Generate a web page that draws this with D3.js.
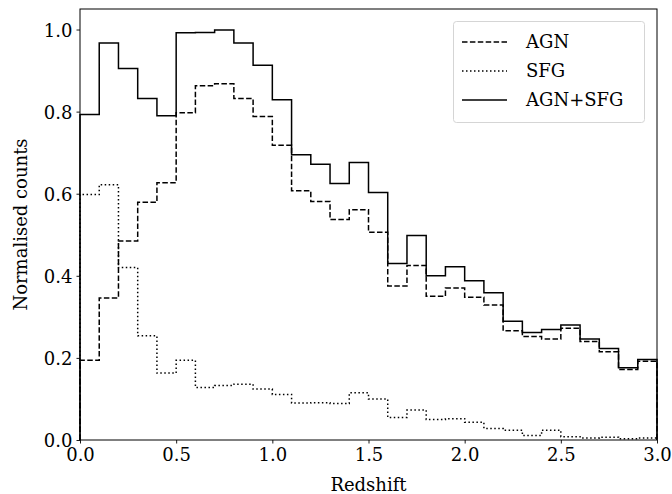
<!DOCTYPE html>
<html>
<head>
<meta charset="utf-8">
<script src="https://cdn.jsdelivr.net/npm/d3@7"></script>
<style>
  body { margin: 0; background: #fff; }
  text { font-family: "DejaVu Serif", serif; fill: #000; }
</style>
</head>
<body>
<svg id="chart"></svg>
<script>
var width = 672, height = 494;
var margin = {top: 9, right: 15, bottom: 54, left: 80};

// bin edges (redshift) and normalised counts per bin
var binEdges = [0.0, 0.1, 0.2, 0.3, 0.4, 0.5, 0.6, 0.7, 0.8, 0.9, 1.0,
                1.1, 1.2, 1.3, 1.4, 1.5, 1.6, 1.7, 1.8, 1.9, 2.0,
                2.1, 2.2, 2.3, 2.4, 2.5, 2.6, 2.7, 2.8, 2.9, 3.0];

var agn = [0.194, 0.346, 0.485, 0.579, 0.627, 0.797, 0.863, 0.868, 0.832, 0.788,
           0.718, 0.607, 0.581, 0.537, 0.561, 0.506, 0.375, 0.425, 0.350, 0.370,
           0.348, 0.329, 0.266, 0.252, 0.246, 0.272, 0.240, 0.215, 0.172, 0.192];

var sfg = [0.598, 0.622, 0.420, 0.254, 0.163, 0.194, 0.128, 0.133, 0.136, 0.124,
           0.111, 0.090, 0.091, 0.089, 0.115, 0.100, 0.055, 0.073, 0.050, 0.052,
           0.043, 0.028, 0.024, 0.011, 0.024, 0.008, 0.005, 0.007, 0.003, 0.005];

var total = [0.793, 0.967, 0.905, 0.832, 0.790, 0.992, 0.993, 0.999, 0.967, 0.913,
             0.829, 0.695, 0.672, 0.625, 0.676, 0.603, 0.430, 0.498, 0.400, 0.422,
             0.388, 0.359, 0.289, 0.262, 0.269, 0.280, 0.246, 0.223, 0.176, 0.196];

var xTicks = [0.0, 0.5, 1.0, 1.5, 2.0, 2.5, 3.0];
var yTicks = [0.0, 0.2, 0.4, 0.6, 0.8, 1.0];

var series = [
    {name: "AGN", values: agn, dash: "5.5,2.4"},
    {name: "SFG", values: sfg, dash: "1.5,2.5"},
    {name: "AGN+SFG", values: total, dash: null}
];

var chart = d3.select('#chart')
    .attr('width', width)
    .attr('height', height);

var x = d3.scaleLinear()
    .domain([0, 3.0])
    .range([margin.left, width - margin.right]);

var y = d3.scaleLinear()
    .domain([0, 1.05])
    .range([height - margin.bottom, margin.top]);

// step outline: baseline -> bins -> baseline
function stepPoints(vals) {
    var pts = [[binEdges[0], 0]];
    vals.forEach(function(v, i) { pts.push([binEdges[i], v]); });
    pts.push([binEdges[binEdges.length - 1], vals[vals.length - 1]]);
    pts.push([binEdges[binEdges.length - 1], 0]);
    return pts;
}

var line = d3.line()
    .x(d => x(d[0]))
    .y(d => y(d[1]))
    .curve(d3.curveStepAfter);

chart.append("g")
    .selectAll("path")
    .data(series)
    .enter()
    .append("path")
        .attr("d", d => line(stepPoints(d.values)))
        .attr("fill", "none")
        .attr("stroke", "#000")
        .attr("stroke-width", 1.5)
        .attr("stroke-dasharray", d => d.dash);

// axes
var xAxis = chart.append("g")
    .attr("transform", "translate(0," + (height - margin.bottom) + ")")
    .call(d3.axisBottom(x).tickValues(xTicks).tickFormat(d3.format(".1f")).tickSize(3.5).tickPadding(5));

var yAxis = chart.append("g")
    .attr("transform", "translate(" + margin.left + ",0)")
    .call(d3.axisLeft(y).tickValues(yTicks).tickFormat(d3.format(".1f")).tickSize(3.5).tickPadding(4));

[xAxis, yAxis].forEach(function(g) {
    g.select(".domain").remove();
    g.selectAll("line").attr("stroke", "#000").attr("stroke-width", 0.9);
    g.selectAll("text")
        .style("font-family", "'DejaVu Serif', serif")
        .style("font-size", "18px")
        .attr("fill", "#000");
});
yAxis.selectAll("text").attr("dy", "0.36em");

// frame
chart.append("rect")
    .attr("x", margin.left)
    .attr("y", margin.top)
    .attr("width", width - margin.left - margin.right)
    .attr("height", height - margin.top - margin.bottom)
    .attr("fill", "none")
    .attr("stroke", "#000")
    .attr("stroke-width", 1);

// axis labels
chart.append("text")
    .attr("x", (margin.left + width - margin.right) / 2)
    .attr("y", 491)
    .attr("text-anchor", "middle")
    .style("font-size", "18px")
    .text("Redshift");

chart.append("text")
    .attr("transform", "translate(27," + ((margin.top + height - margin.bottom) / 2) + ") rotate(-90)")
    .attr("text-anchor", "middle")
    .style("font-size", "18px")
    .text("Normalised counts");

// legend
var legend = chart.append("g");
legend.append("rect")
    .attr("x", 453.5)
    .attr("y", 21.5)
    .attr("width", 191)
    .attr("height", 101)
    .attr("rx", 3)
    .attr("fill", "#fff")
    .attr("fill-opacity", 0.8)
    .attr("stroke", "#d5d5d5")
    .attr("stroke-width", 1);

var items = legend.selectAll("g.item")
    .data(series)
    .enter()
    .append("g")
        .attr("class", "item")
        .attr("transform", (d, i) => "translate(0," + (42 + i * 29) + ")");

items.append("line")
    .attr("x1", 462)
    .attr("x2", 507)
    .attr("y1", 0)
    .attr("y2", 0)
    .attr("stroke", "#000")
    .attr("stroke-width", 1.5)
    .attr("stroke-dasharray", d => d.dash);

items.append("text")
    .attr("x", 526)
    .attr("y", 0)
    .attr("dy", "0.36em")
    .style("font-size", "18px")
    .text(d => d.name);
</script>
</body>
</html>
